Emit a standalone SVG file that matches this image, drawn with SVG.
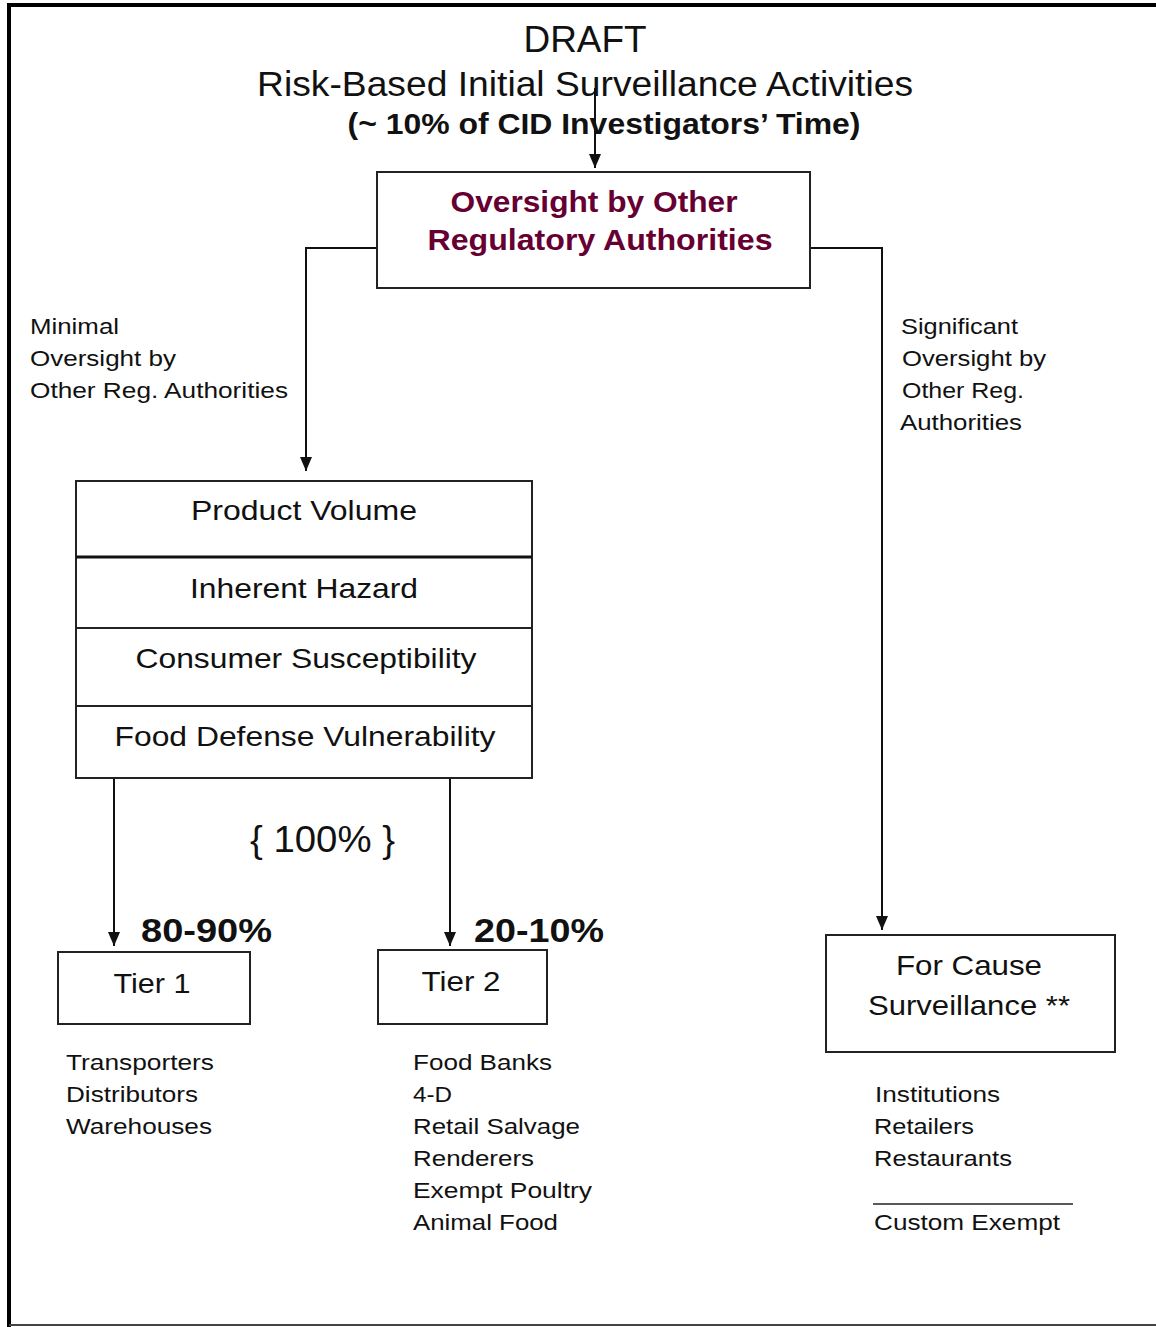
<svg xmlns="http://www.w3.org/2000/svg" width="1156" height="1327" viewBox="0 0 1156 1327">
<style>
text{font-family:"Liberation Sans",Arial,sans-serif;fill:#111}
.box{fill:#fff;stroke:#222;stroke-width:2}
.ln{fill:none;stroke:#111;stroke-width:2}
.t{font-size:28px;text-anchor:middle}
.lbl{font-size:22px}
.pc{font-size:34px;font-weight:bold}
.ov{font-size:29px;font-weight:bold;fill:#660033;text-anchor:middle}
</style>
<defs>
<marker id="ah" viewBox="0 0 14 12" refX="14" refY="6" markerWidth="14" markerHeight="12" markerUnits="userSpaceOnUse" orient="auto">
<path d="M0,0 L14,6 L0,12 Z" fill="#111"/>
</marker>
</defs>
<rect x="0" y="0" width="1156" height="1327" fill="#fff"/>
<g id="frame">
<line x1="9" y1="3" x2="9" y2="1327" stroke="#000" stroke-width="4"/>
<line x1="7" y1="5" x2="1156" y2="5" stroke="#000" stroke-width="4"/>
<line x1="9" y1="1325" x2="1156" y2="1325" stroke="#444" stroke-width="2"/>
</g>
<g id="title">
<text x="585" y="52" font-size="36" text-anchor="middle" textLength="123" lengthAdjust="spacingAndGlyphs">DRAFT</text>
<text x="585" y="96" font-size="35" text-anchor="middle" textLength="656" lengthAdjust="spacingAndGlyphs">Risk-Based Initial Surveillance Activities</text>
<text x="604" y="134" font-size="30" font-weight="bold" text-anchor="middle" textLength="513" lengthAdjust="spacingAndGlyphs">(~ 10% of CID Investigators’ Time)</text>
</g>
<g id="connectors">
<path class="ln" d="M595,88 V168" marker-end="url(#ah)"/>
<path class="ln" d="M377,248 H306 V471" marker-end="url(#ah)"/>
<path class="ln" d="M810,248 H882 V930" marker-end="url(#ah)"/>
<path class="ln" d="M114,772 V946" marker-end="url(#ah)"/>
<path class="ln" d="M450,772 V946" marker-end="url(#ah)"/>
</g>
<g id="oversight">
<rect class="box" x="377" y="172" width="433" height="116"/>
<text class="ov" x="594" y="212" textLength="287" lengthAdjust="spacingAndGlyphs">Oversight by Other</text>
<text class="ov" x="600" y="250" textLength="345" lengthAdjust="spacingAndGlyphs">Regulatory Authorities</text>
</g>
<g id="label-minimal">
<text class="lbl" x="30" y="334" textLength="89" lengthAdjust="spacingAndGlyphs">Minimal</text>
<text class="lbl" x="30" y="366" textLength="146" lengthAdjust="spacingAndGlyphs">Oversight by</text>
<text class="lbl" x="30" y="398" textLength="258" lengthAdjust="spacingAndGlyphs">Other Reg. Authorities</text>
</g>
<g id="label-significant">
<text class="lbl" x="901" y="334" textLength="117" lengthAdjust="spacingAndGlyphs">Significant</text>
<text class="lbl" x="902" y="366" textLength="144" lengthAdjust="spacingAndGlyphs">Oversight by</text>
<text class="lbl" x="902" y="398" textLength="122" lengthAdjust="spacingAndGlyphs">Other Reg.</text>
<text class="lbl" x="900" y="430" textLength="122" lengthAdjust="spacingAndGlyphs">Authorities</text>
</g>
<g id="risk-factors">
<rect class="box" x="76" y="481" width="456" height="297"/>
<line x1="76" y1="557" x2="532" y2="557" stroke="#111" stroke-width="3"/>
<line x1="76" y1="628" x2="532" y2="628" stroke="#222" stroke-width="2"/>
<line x1="76" y1="706" x2="532" y2="706" stroke="#222" stroke-width="2"/>
<text class="t" x="304" y="520" textLength="226" lengthAdjust="spacingAndGlyphs">Product Volume</text>
<text class="t" x="304" y="598" textLength="228" lengthAdjust="spacingAndGlyphs">Inherent Hazard</text>
<text class="t" x="306" y="668" textLength="341" lengthAdjust="spacingAndGlyphs">Consumer Susceptibility</text>
<text class="t" x="305" y="746" textLength="381" lengthAdjust="spacingAndGlyphs">Food Defense Vulnerability</text>
</g>
<g id="percent-labels">
<text x="250" y="852" font-size="36" textLength="145" lengthAdjust="spacingAndGlyphs">{ 100% }</text>
<text class="pc" x="141" y="942" textLength="131" lengthAdjust="spacingAndGlyphs">80-90%</text>
<text class="pc" x="474" y="942" textLength="130" lengthAdjust="spacingAndGlyphs">20-10%</text>
</g>
<g id="tier1">
<rect class="box" x="58" y="952" width="192" height="72"/>
<text class="t" x="152" y="993" textLength="77" lengthAdjust="spacingAndGlyphs">Tier 1</text>
</g>
<g id="tier2">
<rect class="box" x="378" y="950" width="169" height="74"/>
<text class="t" x="461" y="991" textLength="79" lengthAdjust="spacingAndGlyphs">Tier 2</text>
</g>
<g id="for-cause">
<rect class="box" x="826" y="935" width="289" height="117"/>
<text class="t" x="969" y="975" textLength="146" lengthAdjust="spacingAndGlyphs">For Cause</text>
<text class="t" x="969" y="1015" textLength="202" lengthAdjust="spacingAndGlyphs">Surveillance **</text>
</g>
<g id="tier1-list">
<text class="lbl" x="66" y="1070" textLength="148" lengthAdjust="spacingAndGlyphs">Transporters</text>
<text class="lbl" x="66" y="1102" textLength="132" lengthAdjust="spacingAndGlyphs">Distributors</text>
<text class="lbl" x="66" y="1134" textLength="146" lengthAdjust="spacingAndGlyphs">Warehouses</text>
</g>
<g id="tier2-list">
<text class="lbl" x="413" y="1070" textLength="139" lengthAdjust="spacingAndGlyphs">Food Banks</text>
<text class="lbl" x="413" y="1102" textLength="39" lengthAdjust="spacingAndGlyphs">4-D</text>
<text class="lbl" x="413" y="1134" textLength="167" lengthAdjust="spacingAndGlyphs">Retail Salvage</text>
<text class="lbl" x="413" y="1166" textLength="121" lengthAdjust="spacingAndGlyphs">Renderers</text>
<text class="lbl" x="413" y="1198" textLength="179" lengthAdjust="spacingAndGlyphs">Exempt Poultry</text>
<text class="lbl" x="413" y="1230" textLength="145" lengthAdjust="spacingAndGlyphs">Animal Food</text>
</g>
<g id="for-cause-list">
<text class="lbl" x="875" y="1102" textLength="125" lengthAdjust="spacingAndGlyphs">Institutions</text>
<text class="lbl" x="874" y="1134" textLength="100" lengthAdjust="spacingAndGlyphs">Retailers</text>
<text class="lbl" x="874" y="1166" textLength="138" lengthAdjust="spacingAndGlyphs">Restaurants</text>
<line x1="873" y1="1204" x2="1073" y2="1204" stroke="#222" stroke-width="1.5"/>
<text class="lbl" x="874" y="1230" textLength="186" lengthAdjust="spacingAndGlyphs">Custom Exempt</text>
</g>
</svg>
